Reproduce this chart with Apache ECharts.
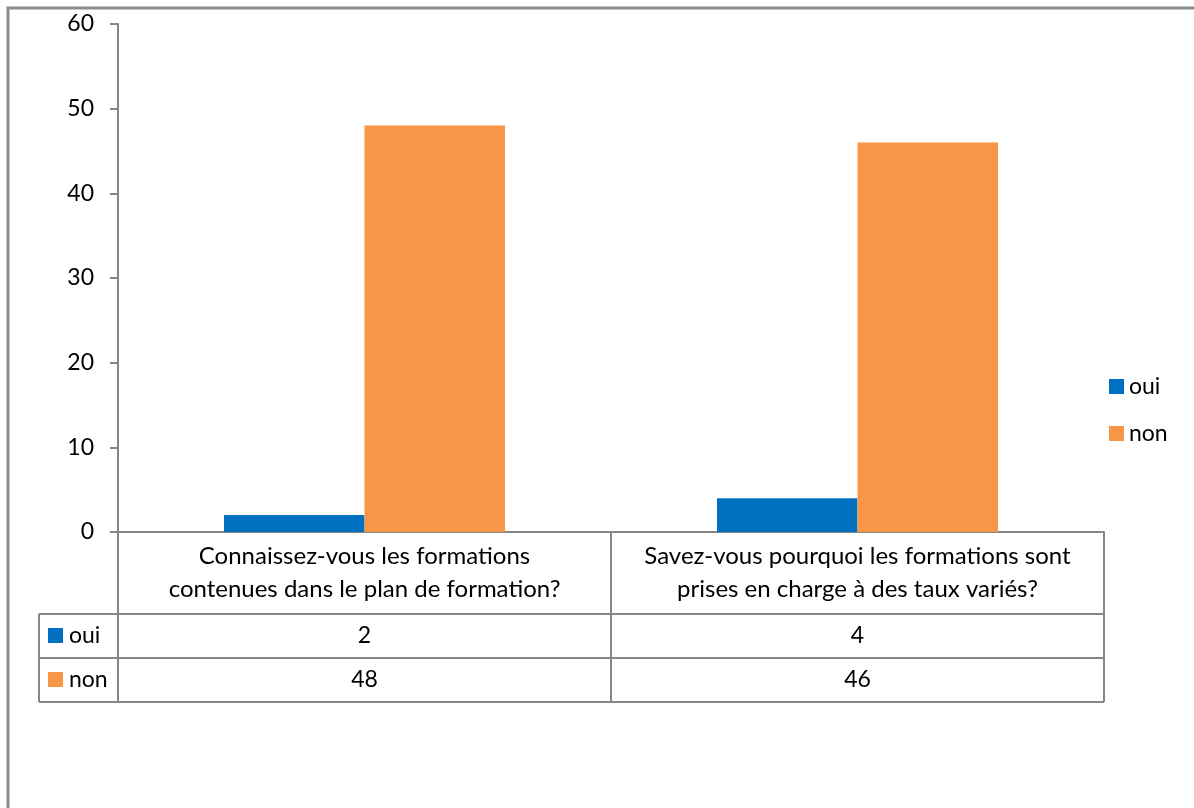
<!DOCTYPE html>
<html>
<head>
<meta charset="utf-8">
<script src="https://cdn.jsdelivr.net/npm/echarts@6/dist/echarts.min.js"></script>
<style>
  html, body { margin: 0; padding: 0; background: #fff; }
  #chart { width: 1194px; height: 808px; }
</style>
</head>
<body>
<div id="chart"></div>
<script>
// Survey answers per question
const categories = [
  'Connaissez-vous les formations\ncontenues dans le plan de formation?',
  'Savez-vous pourquoi les formations sont\nprises en charge à des taux variés?'
];
const seriesNames = ['oui', 'non'];
const ouiValues = [2, 4];
const nonValues = [48, 46];
const yTicks = [0, 10, 20, 30, 40, 50, 60];

const colors = ['#0070C0', '#F79646'];
const axisGray = '#868686';
const FONT = 'Lato, "Open Sans", sans-serif';
const FS = 23;

const chart = echarts.init(document.getElementById('chart'));

const option = {
  animation: false,
  backgroundColor: '#fff',
  grid: { left: 118, right: 90, top: 24, bottom: 276 },
  legend: {
    orient: 'vertical',
    left: 1104,
    top: 370,
    itemWidth: 15,
    itemHeight: 15,
    itemGap: 24,
    icon: 'rect',
    textStyle: { fontFamily: FONT, fontSize: FS, color: '#000' },
    data: seriesNames
  },
  xAxis: {
    type: 'category',
    data: categories,
    axisLine: { lineStyle: { color: axisGray, width: 2 } },
    axisTick: { show: false },
    axisLabel: {
      interval: 0,
      margin: 8,
      fontFamily: FONT,
      fontSize: 24,
      lineHeight: 33,
      color: '#000'
    }
  },
  yAxis: {
    type: 'value',
    min: yTicks[0],
    max: yTicks[yTicks.length - 1],
    interval: 10,
    splitLine: { show: false },
    axisLine: { show: true, lineStyle: { color: axisGray, width: 2 } },
    axisTick: { show: true, length: 8, lineStyle: { color: axisGray, width: 2 } },
    axisLabel: { margin: 24, fontFamily: FONT, fontSize: FS, color: '#000' }
  },
  series: [
    { name: seriesNames[0], type: 'bar', data: ouiValues, barGap: '0%', barCategoryGap: '43%', itemStyle: { color: colors[0] } },
    { name: seriesNames[1], type: 'bar', data: nonValues, barGap: '0%', barCategoryGap: '43%', itemStyle: { color: colors[1] } }
  ]
};
chart.setOption(option);

// Data table under the plot, positioned from the axis scales
function buildTable() {
  const lineStyle = { stroke: axisGray, lineWidth: 2 };
  const y0 = chart.convertToPixel({ yAxisIndex: 0 }, 0);
  const c0 = chart.convertToPixel({ xAxisIndex: 0 }, 0);
  const step = chart.convertToPixel({ xAxisIndex: 0 }, 1) - c0;
  const xLeft = c0 - step / 2;
  const xRight = xLeft + step * categories.length;
  const headerH = 82, rowH = 44, keyLeft = 39;
  const rowsTop = y0 + headerH;
  const rows = [ouiValues, nonValues];
  const els = [];
  // vertical lines
  for (let i = 0; i <= categories.length; i++) {
    const x = xLeft + step * i;
    els.push({ type: 'line', shape: { x1: x, y1: y0, x2: x, y2: rowsTop + rowH * rows.length }, style: lineStyle });
  }
  els.push({ type: 'line', shape: { x1: keyLeft, y1: rowsTop, x2: keyLeft, y2: rowsTop + rowH * rows.length }, style: lineStyle });
  // horizontal lines
  for (let r = 0; r <= rows.length; r++) {
    const y = rowsTop + rowH * r;
    els.push({ type: 'line', shape: { x1: keyLeft, y1: y, x2: xRight, y2: y }, style: lineStyle });
  }
  // row keys and values
  rows.forEach((vals, r) => {
    const cy = rowsTop + rowH * r + rowH / 2;
    els.push({ type: 'rect', shape: { x: keyLeft + 9, y: cy - 8, width: 15, height: 15 }, style: { fill: colors[r] } });
    els.push({ type: 'text', style: { x: keyLeft + 30, y: cy, text: seriesNames[r], fontFamily: FONT, fontSize: FS, fill: '#000', verticalAlign: 'middle' } });
    vals.forEach((v, c) => {
      els.push({ type: 'text', style: { x: xLeft + step * c + step / 2, y: cy, text: String(v), fontFamily: FONT, fontSize: FS, fill: '#000', align: 'center', verticalAlign: 'middle' } });
    });
  });
  // outer frame of the chart area
  els.push({ type: 'rect', shape: { x: 8, y: 8, width: 1400, height: 1000 }, style: { fill: 'none', stroke: '#8C8C8C', lineWidth: 3 } });
  chart.setOption({ graphic: els });
}
buildTable();
</script>
</body>
</html>
